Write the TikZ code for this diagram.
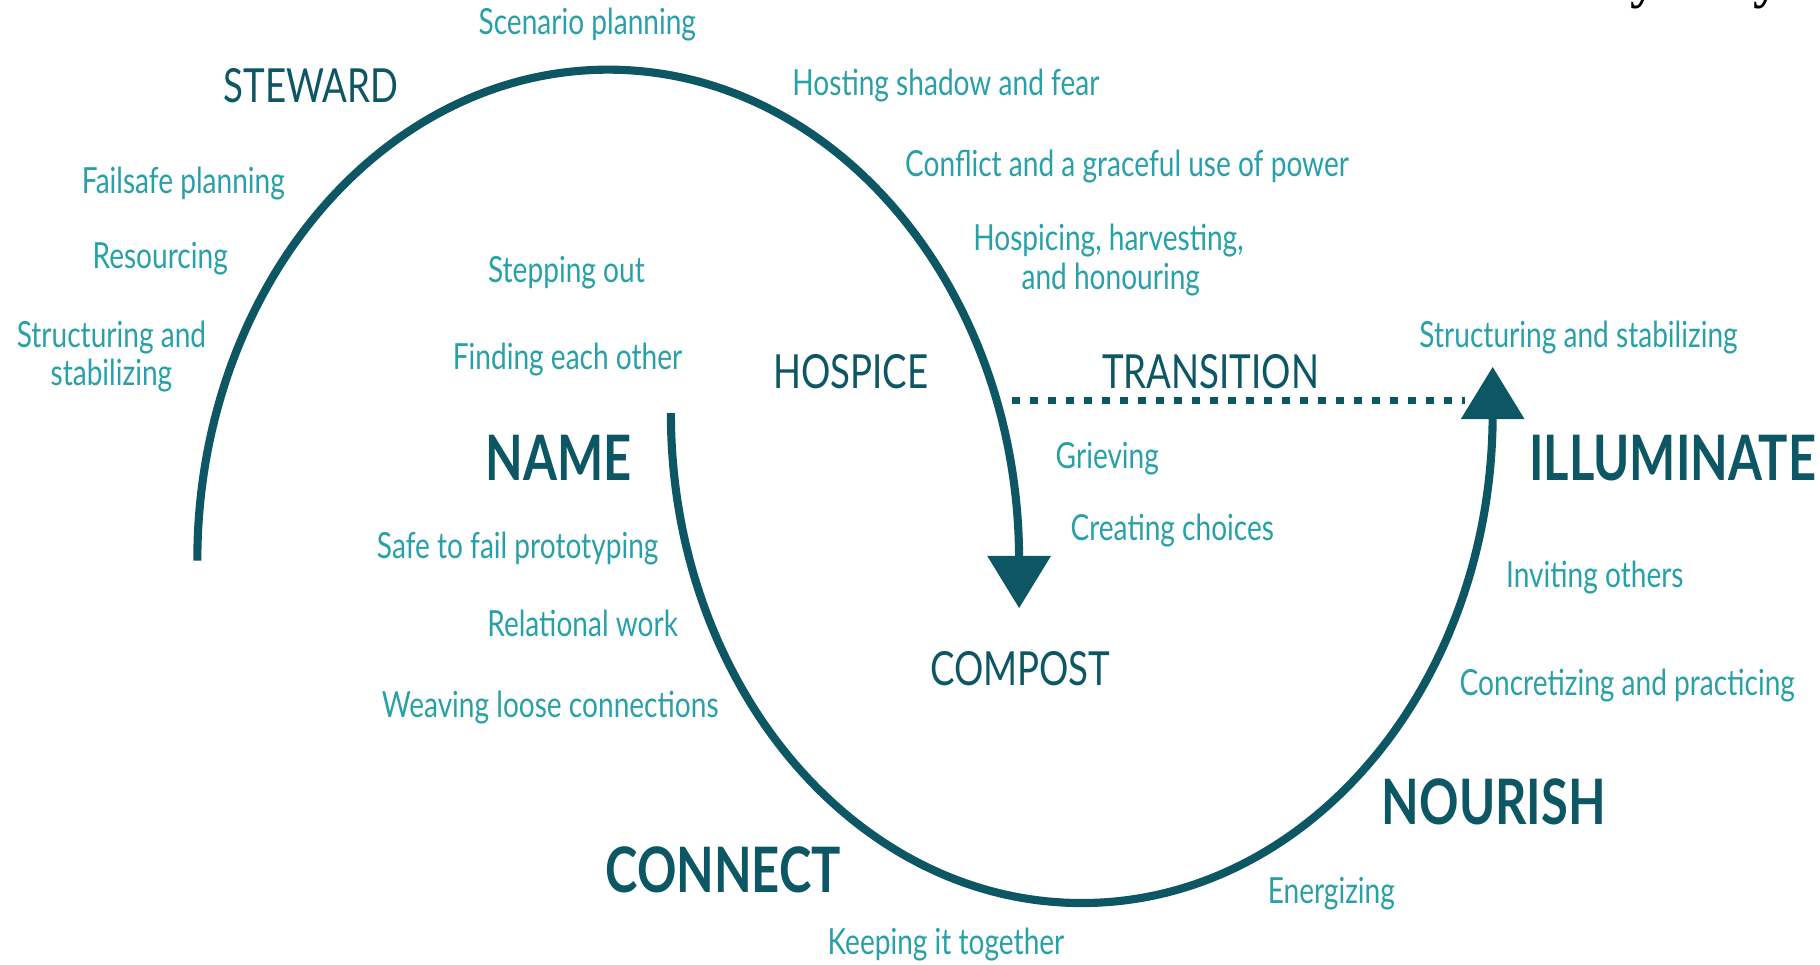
\documentclass[tikz,border=0pt]{standalone}
\usepackage{fontspec}
\setmainfont{Lato}[FakeStretch=0.78]
\newfontfamily\cutserif{Liberation Serif}
\usetikzlibrary{arrows.meta}
\definecolor{darkteal}{HTML}{0D5663}
\definecolor{lightteal}{HTML}{28A0A8}
\begin{document}
\begin{tikzpicture}[x=1pt,y=-1pt,
  lbl/.style={text=lightteal, font=\fontsize{31}{35}\selectfont, inner sep=0pt, anchor=base},
  head/.style={text=darkteal, font=\fontsize{40.5}{46}\selectfont, inner sep=0pt, anchor=base},
  bighead/.style={text=darkteal, font=\bfseries\fontsize{54}{60}\selectfont, inner sep=0pt, anchor=base},
  cyc/.style={draw=darkteal, line width=7pt},
  tip/.style={-{Triangle[width=53pt,length=45pt]}},
  dots/.style={draw=darkteal, line width=5.5pt, dash pattern=on 7pt off 8.5pt}
]
\useasboundingbox (0,0) rectangle (1568,831);

% cut-off title at top right
\node[anchor=base west, inner sep=0pt, font=\cutserif\bfseries\fontsize{46}{50}\selectfont] (title) at (1305,-2) {Lifecycle systems};

% cycle curves
\coordinate (aStart) at (170,483);
\coordinate (aTip) at (878,524);
\draw[cyc, tip] (aStart) arc[start angle=180, end angle=360, x radius=354, y radius=423] -- (aTip);

\coordinate (bStart) at (578,356);
\coordinate (bTip) at (1286,316);
\draw[cyc, tip] (bStart) arc[start angle=180, end angle=0, x radius=354, y radius=422] -- (bTip);

% transition dotted line
\coordinate (dA) at (872,345);
\coordinate (dB) at (1262,345);
\draw[dots] (dA) -- (dB);

% headings
\node[head] (steward) at (268,88) {STEWARD};
\node[head] (hospice) at (733,335) {HOSPICE};
\node[head] (transition) at (1043,335) {TRANSITION};
\node[head] (compost) at (879,591) {COMPOST};
\node[bighead] (name) at (481,414) {NAME};
\node[bighead] (illuminate) at (1441,414) {ILLUMINATE};
\node[bighead] (nourish) at (1287,710) {NOURISH};
\node[bighead] (connect) at (623,769) {CONNECT};

% labels
\node[lbl] (scen) at (506,30) {Scenario planning};
\node[lbl] (host) at (815,82) {Hosting shadow and fear};
\node[lbl] (confl) at (971,152) {Conflict and a graceful use of power};
\node[lbl] (hospA) at (955,216) {Hospicing, harvesting,};
\node[lbl] (hospB) at (957,249) {and honouring};
\node[lbl] (fail) at (158,167) {Failsafe planning};
\node[lbl] (res) at (138,231) {Resourcing};
\node[lbl] (strucA) at (96,299) {Structuring and};
\node[lbl] (strucB) at (96,332) {stabilizing};
\node[lbl] (step) at (488,243) {Stepping out};
\node[lbl] (find) at (489,318) {Finding each other};
\node[lbl] (strucR) at (1360,299) {Structuring and stabilizing};
\node[lbl] (griev) at (954,404) {Grieving};
\node[lbl] (creat) at (1010,466) {Creating choices};
\node[lbl] (safe) at (446,481) {Safe to fail prototyping};
\node[lbl] (invit) at (1374,506) {Inviting others};
\node[lbl] (relat) at (502,548) {Relational work};
\node[lbl] (concr) at (1402,599) {Concretizing and practicing};
\node[lbl] (weav) at (474,618) {Weaving loose connections};
\node[lbl] (energ) at (1147,778) {Energizing};
\node[lbl] (keep) at (815,822) {Keeping it together};
\end{tikzpicture}
\end{document}
